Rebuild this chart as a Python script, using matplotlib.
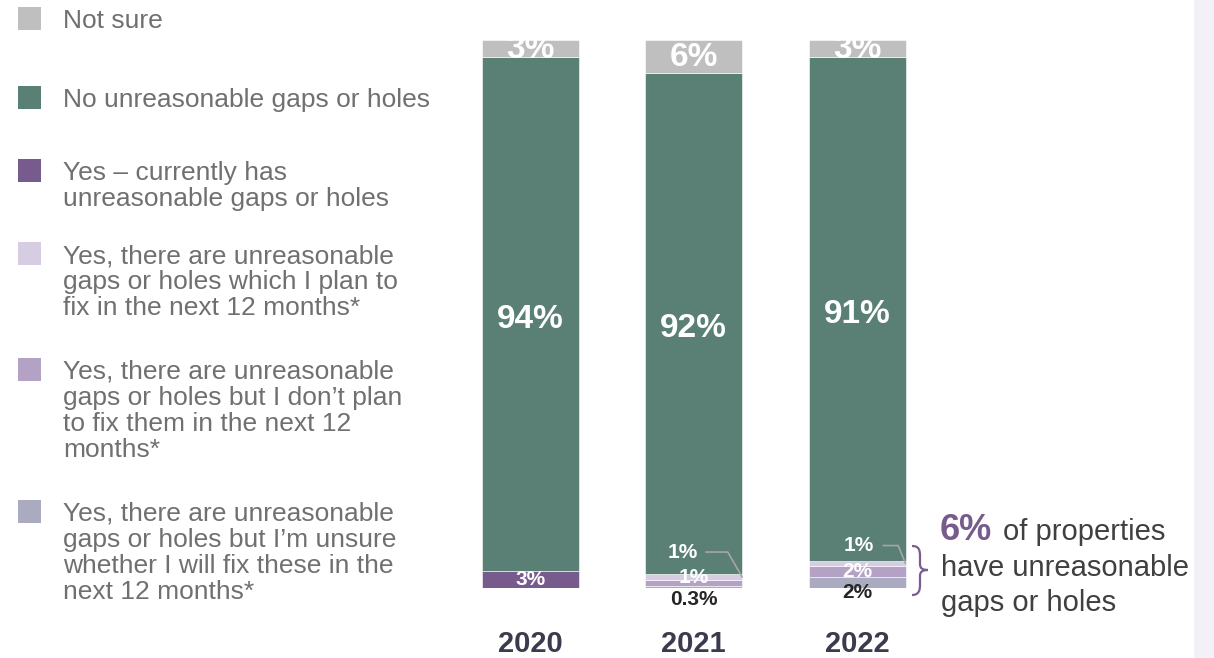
import matplotlib.pyplot as plt
import numpy as np
from matplotlib.patches import Rectangle, PathPatch
from matplotlib.path import Path

plt.rcParams['font.family'] = ['Liberation Sans', 'DejaVu Sans']

W, H = 1214, 658

# data (percent), stacked bottom -> top
years = ['2020', '2021', '2022']
unsure_fix = [0.0, 0.3, 2.0]
no_plan_fix = [0.0, 1.1, 2.0]
plan_fix = [0.0, 1.2, 0.9]
currently_has = [3.1, 0.0, 0.0]
no_gaps = [93.8, 91.4, 92.0]
not_sure = [3.1, 6.0, 3.1]

# labels as printed on the chart
lab_not_sure = ['3%', '6%', '3%']
lab_no_gaps = ['94%', '92%', '91%']

series = [unsure_fix, no_plan_fix, plan_fix, currently_has, no_gaps, not_sure]
colors = ['#aaabc0', '#b3a2c6', '#d6cde2', '#765b8c', '#5a7f74', '#bfbfbf']

legend_items = [
    ('#bfbfbf', ['Not sure'], 19),
    ('#5a7f74', ['No unreasonable gaps or holes'], 98),
    ('#765b8c', ['Yes \u2013 currently has', 'unreasonable gaps or holes'], 171),
    ('#d6cde2', ['Yes, there are unreasonable', 'gaps or holes which I plan to',
                 'fix in the next 12 months*'], 254),
    ('#b3a2c6', ['Yes, there are unreasonable', 'gaps or holes but I don\u2019t plan',
                 'to fix them in the next 12', 'months*'], 370),
    ('#aaabc0', ['Yes, there are unreasonable', 'gaps or holes but I\u2019m unsure',
                 'whether I will fix these in the', 'next 12 months*'], 512),
]


def fx(x):
    return x / W


def fy(y):
    return 1 - y / H


fig = plt.figure(figsize=(W / 100, H / 100), dpi=100)

# light panel on the right
fig.add_artist(Rectangle((fx(1194), 0), 1 - fx(1194), 1, transform=fig.transFigure,
                         facecolor='#f3f1f7', edgecolor='none'))

ax = fig.add_axes([fx(448.75), fy(588), 490 / W, 548 / H])
x = np.arange(len(years))
w = 0.593
bottom = np.zeros(len(years))
bottoms = []
for vals, c in zip(series, colors):
    vals = np.array(vals)
    bottoms.append(bottom.copy())
    ax.bar(x, vals, w, bottom=bottom, color=c, edgecolor='white', linewidth=0.4)
    bottom = bottom + vals

ax.set_xlim(-0.5, 2.5)
ax.set_ylim(0, 100)
ax.set_yticks([])
ax.set_xticks(x)
ax.set_xticklabels(years, fontsize=21, fontweight='bold', color='#3b3b4e')
ax.tick_params(axis='x', length=0, pad=30)
for s in ax.spines.values():
    s.set_visible(False)

big = dict(color='white', fontsize=24, fontweight='bold', ha='center', va='center')
small_w = dict(color='white', fontsize=15, fontweight='bold', ha='center', va='center')
small_k = dict(color='#262626', fontsize=15, fontweight='bold', ha='center', va='center')

b_ns = bottoms[5]
b_no = bottoms[4]
for i in range(len(years)):
    ax.text(x[i], b_ns[i] + not_sure[i] / 2 - 0.2, lab_not_sure[i], **big)
    ax.text(x[i], b_no[i] + no_gaps[i] / 2 - 1.0, lab_no_gaps[i], **big)

# 2020 bottom segment
ax.text(x[0], bottoms[3][0] + currently_has[0] / 2, '3%', **small_w)

# 2021 small segments
ax.annotate('1%', xy=(x[1], bottoms[1][1] + no_plan_fix[1] / 2), xytext=(0, 4),
            textcoords='offset points', **small_w)
ax.annotate('0.3%', xy=(x[1], 0), xytext=(0, -8.5), textcoords='offset points', **small_k)
ax.annotate('1%', xy=(x[1] + w / 2, bottoms[2][1] + plan_fix[1] / 2),
            xytext=(-43, 18), textcoords='offset points', **small_w,
            arrowprops=dict(arrowstyle='-', color='#a6a6a6', lw=1.2, shrinkA=4, shrinkB=0,
                            connectionstyle='angle,angleA=0,angleB=120,rad=0'))

# 2022 small segments
ax.annotate('2%', xy=(x[2], bottoms[1][2] + no_plan_fix[2] / 2), xytext=(0, 0),
            textcoords='offset points', **small_w)
ax.annotate('2%', xy=(x[2], bottoms[0][2] + unsure_fix[2] / 2), xytext=(0, -7),
            textcoords='offset points', **small_k)
ax.annotate('1%', xy=(x[2] + w / 2, bottoms[2][2] + plan_fix[2] / 2),
            xytext=(-34, 13), textcoords='offset points', **small_w,
            arrowprops=dict(arrowstyle='-', color='#a6a6a6', lw=1.2, shrinkA=5, shrinkB=0,
                            connectionstyle='angle,angleA=0,angleB=112,rad=0'))

# legend drawn by hand
for c, lines, y0 in legend_items:
    fig.add_artist(Rectangle((fx(18), fy(y0 + 11)), 23 / W, 23 / H,
                             transform=fig.transFigure, facecolor=c, edgecolor='none'))
    for k, line in enumerate(lines):
        fig.text(fx(63), fy(y0 + 2 + k * 26), line, fontsize=19, color='#707070',
                 ha='left', va='center')

# brace and summary note
pts = [(912, 546), (919, 546), (920, 550), (920, 556),
       (920, 564),
       (920, 568), (922, 570), (928, 570),
       (922, 570), (920, 572), (920, 576),
       (920, 585),
       (920, 590), (919, 595), (912, 595)]
codes = [Path.MOVETO, Path.CURVE4, Path.CURVE4, Path.CURVE4,
         Path.LINETO,
         Path.CURVE4, Path.CURVE4, Path.CURVE4,
         Path.CURVE4, Path.CURVE4, Path.CURVE4,
         Path.LINETO,
         Path.CURVE4, Path.CURVE4, Path.CURVE4]
brace = Path([(fx(a), fy(b)) for a, b in pts], codes)
fig.add_artist(PathPatch(brace, transform=fig.transFigure, facecolor='none',
                         edgecolor='#7a5c91', lw=1.6))

fig.text(fx(940), fy(540), '6%', fontsize=26, fontweight='bold', color='#765b8c',
         ha='left', va='baseline')
fig.text(fx(1003), fy(540), 'of properties', fontsize=21, color='#404040',
         ha='left', va='baseline')
fig.text(fx(941), fy(576), 'have unreasonable', fontsize=21, color='#404040',
         ha='left', va='baseline')
fig.text(fx(941), fy(611), 'gaps or holes', fontsize=21, color='#404040',
         ha='left', va='baseline')

fig.savefig('out.png', dpi=100)
